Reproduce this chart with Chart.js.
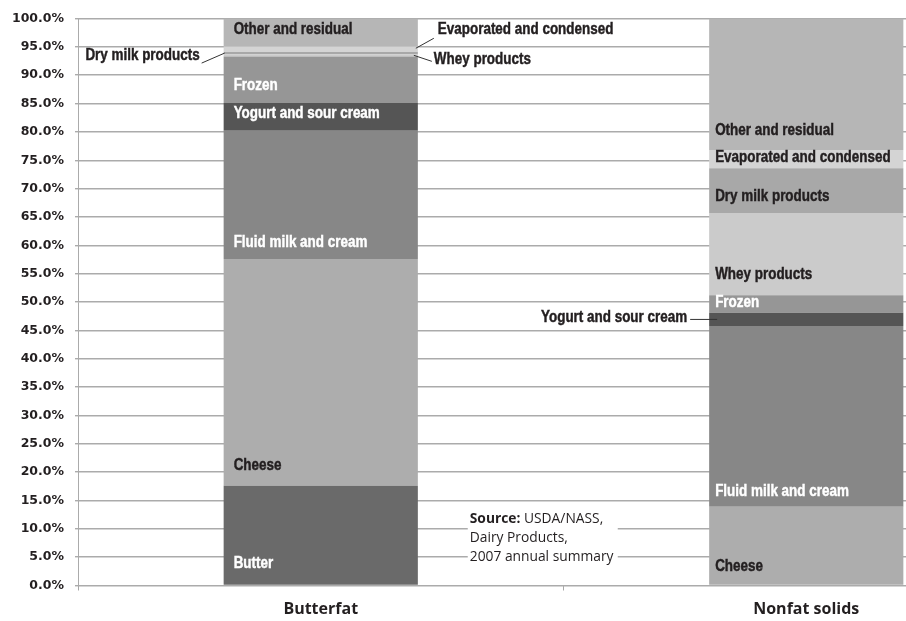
<!DOCTYPE html>
<html><head><meta charset="utf-8">
<script src="https://cdn.jsdelivr.net/npm/chart.js@4.4.1/dist/chart.umd.min.js"></script>
<style>
html,body{margin:0;padding:0;background:#fff;overflow:hidden;width:906px;height:621px}
#wrap{position:relative;width:1060px;height:621px}
</style>
</head><body><div id="wrap"><canvas id="c" width="1060" height="621"></canvas></div>
<script>
// ---------- data ----------
const categories = ['Butterfat', 'Nonfat solids'];
const segmentNames = ['Butter', 'Cheese', 'Fluid milk and cream', 'Yogurt and sour cream', 'Frozen',
  'Whey products', 'Dry milk products', 'Evaporated and condensed', 'Other and residual'];
const butterfatShares = [17.6, 40.0, 22.6, 4.9, 8.2, 0.4, 0.4, 0.95, 4.95];
const nonfatShares    = [0, 13.9, 31.85, 2.35, 3.1, 14.5, 7.9, 3.2, 23.2];
const yTickValues = [0,5,10,15,20,25,30,35,40,45,50,55,60,65,70,75,80,85,90,95,100];
const sourceLines = [['Source:', ' USDA/NASS,'], ['', 'Dairy Products,'], ['', '2007 annual summary']];

// ---------- styles ----------
const segmentColors = ['#6a6a6a', '#adadad', '#878787', '#555555', '#969696', '#cbcbcb', '#a8a8a8', '#d4d4d4', '#b6b6b6'];
const lightText = [true, false, true, true, true, false, false, false, false];
// label mode per category, per segment: 'in', 'left', 'right' or null
const labelModes = [
  ['in', 'in', 'in', 'in', 'in', 'right', 'left', 'right', 'in'],
  [null, 'in', 'in', 'left', 'in', 'in', 'in', 'in', 'in']
];
// baseline lift above the segment bottom for inside labels
const insideLift = {
  '0-0': 17, '0-1': 16, '0-2': 12, '0-3': 12.5, '0-4': 13, '0-8': 12.5,
  '1-1': 13.5, '1-2': 11, '1-4': 5.6, '1-5': 16.5, '1-6': 12, '1-7': 5.9, '1-8': 15.5
};
const insidePad = [10, 6];
// outside label geometry (relative to bar edge and segment middle)
const outside = {
  '0-6': { tx: -24, ty: 0.8, l: [-22, 10, 1, 0] },
  '0-7': { tx: 20, ty: -21, l: [-2, -1, 16, -11] },
  '0-5': { tx: 16, ty: 2.6, l: [-4, 0, 14, 6] },
  '1-3': { tx: -22, ty: -3, l: [-19, 0, 8, 0] }
};
const DARK = '#231f20';

let narrowOK = null;
function hasNarrow(ctx) {
  if (narrowOK !== null) return narrowOK;
  ctx.save();
  ctx.font = 'bold 16px monospace';
  const a = ctx.measureText('Other and residual Wm').width;
  ctx.font = 'bold 16px "Liberation Sans Narrow", monospace';
  const b = ctx.measureText('Other and residual Wm').width;
  ctx.restore();
  narrowOK = Math.abs(a - b) > 0.5;
  return narrowOK;
}
function drawLabel(ctx, text, x, baseline, align, color) {
  ctx.save();
  ctx.fillStyle = color;
  ctx.strokeStyle = color;
  ctx.lineWidth = 0.45;
  ctx.textBaseline = 'alphabetic';
  ctx.textAlign = align;
  ctx.translate(x, baseline);
  if (hasNarrow(ctx)) {
    ctx.font = 'bold 16px "Liberation Sans Narrow"';
    ctx.scale(1.05, 1);
  } else {
    ctx.font = 'bold 16px "Liberation Sans", Arial, sans-serif';
    ctx.scale(0.84, 1);
  }
  ctx.fillText(text, 0, 0);
  ctx.strokeText(text, 0, 0);
  ctx.restore();
}
const CAP = 11.5;

const annotPlugin = {
  id: 'annot',
  afterDatasetsDraw(chart) {
    const ctx = chart.ctx;
    chart.data.datasets.forEach((ds, i) => {
      const meta = chart.getDatasetMeta(i);
      meta.data.forEach((el, j) => {
        const v = ds.data[j];
        const mode = labelModes[j][i];
        if (!v || !mode) return;
        const p = el.getProps(['x', 'y', 'base', 'width'], true);
        const left = p.x - p.width / 2, right = p.x + p.width / 2;
        const top = Math.min(p.y, p.base), bottom = Math.max(p.y, p.base);
        const h = bottom - top, mid = (top + bottom) / 2;
        const key = j + '-' + i;
        if (mode === 'in') {
          let lift = insideLift[key];
          if (lift === undefined) lift = Math.min(12, (h - CAP) / 2 + 2.5);
          drawLabel(ctx, ds.label, left + insidePad[j], bottom - lift, 'left', lightText[i] ? '#ffffff' : DARK);
        } else {
          const o = outside[key];
          const edge = mode === 'left' ? left : right;
          drawLabel(ctx, ds.label, edge + o.tx, mid + o.ty + CAP / 2, mode === 'left' ? 'right' : 'left', DARK);
          ctx.save();
          ctx.strokeStyle = '#333';
          ctx.lineWidth = 1;
          ctx.beginPath();
          ctx.moveTo(edge + o.l[0], mid + o.l[1]);
          ctx.lineTo(edge + o.l[2], mid + o.l[3]);
          ctx.stroke();
          ctx.restore();
        }
      });
    });
    // source note
    const xs = chart.scales.x, ys = chart.scales.y;
    const x0 = xs.getPixelForValue(0) + 149;
    const yLast = ys.getPixelForValue(5);
    const lh = 19.2;
    ctx.save();
    ctx.fillStyle = '#ffffff';
    ctx.fillRect(x0 - 2, yLast - 2 * lh - 11, 150, 2 * lh + 20);
    ctx.textBaseline = 'middle';
    ctx.textAlign = 'left';
    sourceLines.forEach((row, r) => {
      const yy = yLast - (2 - r) * lh;
      let xx = x0;
      if (row[0]) {
        ctx.font = 'bold 13.8px "Open Sans", sans-serif';
        ctx.fillStyle = DARK;
        ctx.fillText(row[0], xx, yy);
        xx += ctx.measureText(row[0]).width;
      }
      ctx.font = '13.8px "Open Sans", sans-serif';
      ctx.fillStyle = DARK;
      ctx.fillText(row[1], xx, yy);
    });
    ctx.restore();
  }
};

const datasets = segmentNames.map((name, i) => ({
  label: name,
  data: [butterfatShares[i], nonfatShares[i]],
  backgroundColor: segmentColors[i],
  borderWidth: 0,
  barPercentage: 0.4,
  categoryPercentage: 1.0
}));

new Chart(document.getElementById('c'), {
  type: 'bar',
  data: { labels: categories, datasets },
  options: {
    responsive: false,
    animation: false,
    layout: { padding: { top: 14, right: 11, left: 0, bottom: 0 } },
    plugins: { legend: { display: false }, tooltip: { enabled: false } },
    scales: {
      x: {
        stacked: true,
        grid: { drawOnChartArea: false, drawTicks: true, tickLength: 5, color: '#a8a8a8', lineWidth: 1 },
        border: { display: false },
        ticks: { color: DARK, font: { family: '"Open Sans", sans-serif', weight: 'bold', size: 16 }, padding: 9 },
        afterFit(s) { s.height = 35.5; }
      },
      y: {
        stacked: true,
        min: 0, max: 100,
        afterBuildTicks(s) { s.ticks = yTickValues.map(v => ({ value: v })); },
        ticks: {
          color: DARK,
          padding: 11,
          font: { family: '"DejaVu Sans", sans-serif', weight: 'bold', size: 12.5 },
          callback: v => Number(v).toFixed(1) + '%'
        },
        grid: { color: '#ababab', lineWidth: 1.4, tickLength: 3 },
        border: { display: true, color: '#ababab', width: 1 },
        afterFit(s) { s.width = 78; }
      }
    }
  },
  plugins: [annotPlugin]
});
</script>
</body></html>
